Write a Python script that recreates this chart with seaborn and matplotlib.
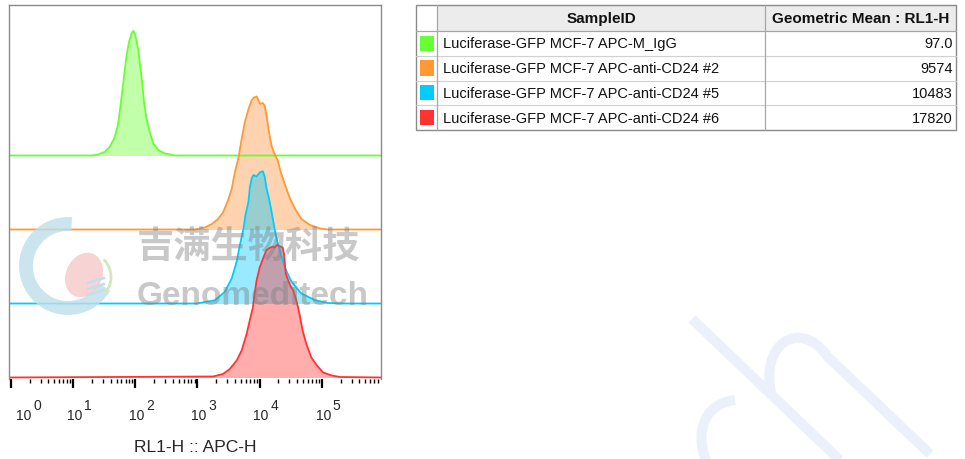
import numpy as np
import pandas as pd
import matplotlib
matplotlib.use("Agg")
import matplotlib.pyplot as plt
import seaborn as sns
from matplotlib.patches import Arc, Ellipse, PathPatch, Rectangle
from matplotlib.path import Path
from matplotlib.ticker import LogLocator, NullFormatter

# table content
sample_ids = ["Luciferase-GFP MCF-7 APC-M_IgG",
              "Luciferase-GFP MCF-7 APC-anti-CD24 #2",
              "Luciferase-GFP MCF-7 APC-anti-CD24 #5",
              "Luciferase-GFP MCF-7 APC-anti-CD24 #6"]
geo_means = ["97.0", "9574", "10483", "17820"]
line_colors = ["#66ff33", "#ff9933", "#00ccff", "#ff3333"]
fill_colors = ["#64ff28", "#ff9137", "#00c8ff", "#ff3232"]

# histograms: RL1-H as log10, height normalised to mode
green_log = [-0.03, 1.30, 1.40, 1.51, 1.59, 1.66, 1.72, 1.75, 1.79, 1.82, 1.86, 1.90, 1.94,
             1.97, 2.00, 2.05, 2.07, 2.11, 2.14, 2.18, 2.24, 2.29, 2.37, 2.48, 2.64, 5.95]
green_h = [0, 0, 1, 3.7, 8.7, 17, 30, 43.7, 63.7, 80, 100, 113.7, 122,
           124.7, 120, 105, 93.7, 73.7, 53.7, 37, 22, 12, 5.3, 2, 0, 0]

orange_log = [-0.03, 2.96, 3.12, 3.23, 3.33, 3.41, 3.49, 3.55, 3.60, 3.66, 3.71, 3.76, 3.82,
              3.87, 3.91, 3.95, 3.98, 4.01, 4.05, 4.08, 4.11, 4.15, 4.19, 4.23, 4.29, 4.34,
              4.41, 4.49, 4.57, 4.67, 4.81, 4.97, 5.10, 5.95]
orange_h = [0, 0, 2, 5.5, 10.5, 17, 29, 40.5, 57, 72, 90.5, 107, 120.5,
            129, 132, 133, 129, 125.5, 126.5, 124, 114, 97, 84, 77, 69, 57,
            44, 30.5, 20.5, 10.5, 4.5, 1, 0, 0]

cyan_log = [-0.03, 2.99, 3.28, 3.44, 3.55, 3.63, 3.68, 3.74, 3.77, 3.82, 3.84, 3.87, 3.90,
            3.95, 4.00, 4.05, 4.08, 4.11, 4.15, 4.19, 4.23, 4.27, 4.33, 4.41, 4.51, 4.67,
            4.89, 5.10, 5.34, 5.95]
cyan_h = [0, 0, 3.3, 11.7, 25, 42, 58, 75, 88, 102, 115, 125, 128.5,
          127, 131, 132.3, 127, 115, 105, 92, 78, 65, 52, 35, 22, 10,
          3.3, 0.5, 0, 0]

red_log = [-0.03, 3.25, 3.41, 3.52, 3.63, 3.71, 3.79, 3.84, 3.89, 3.91, 3.95, 4.00, 4.06,
           4.11, 4.16, 4.21, 4.24, 4.28, 4.33, 4.37, 4.39, 4.42, 4.46, 4.49, 4.54, 4.59,
           4.64, 4.69, 4.75, 4.83, 4.92, 5.02, 5.16, 5.29, 5.95]
red_h = [0, 1, 3.5, 8.5, 17, 27, 43.5, 57, 70, 80, 97, 110, 120,
         127.5, 129.5, 131, 130, 132.5, 131, 130, 123.5, 103.5, 97, 92, 87, 77,
         63.5, 47, 33.5, 20, 12, 5, 2, 0.5, 0]

decades = [0, 1, 2, 3, 4, 5]

curves = [(green_log, green_h), (orange_log, orange_h), (cyan_log, cyan_h), (red_log, red_h)]
step = 74  # vertical offset between stacked histograms

sns.set_theme(style="white")
plt.rcParams["font.family"] = ["Liberation Sans", "DejaVu Sans"]

W, H = 965, 460
fig = plt.figure(figsize=(W / 100, H / 100), dpi=100)
ax = fig.add_axes([9 / W, (H - 379.5) / H, 372 / W, 373.5 / H])
ax.set_xscale("log")

n = len(curves)
for i, (lg, hh) in enumerate(curves):
    off = step * (n - 1 - i)
    df = pd.DataFrame({"x": 10.0 ** np.array(lg), "y": off + np.array(hh, dtype=float)})
    ax.fill_between(df["x"], off, df["y"], color=fill_colors[i], alpha=0.4, lw=0)
    sns.lineplot(data=df, x="x", y="y", ax=ax, color=line_colors[i], lw=1.3,
                 estimator=None, sort=False)

ax.set_xlim(10 ** -0.03, 10 ** 5.95)
ax.set_ylim(-1, 372.5)
ax.set_yticks([])
ax.set_ylabel("")
ax.xaxis.set_major_locator(LogLocator(base=10, numticks=10))
ax.xaxis.set_minor_locator(LogLocator(base=10, subs=np.arange(2, 10), numticks=20))
ax.xaxis.set_major_formatter(NullFormatter())
ax.xaxis.set_minor_formatter(NullFormatter())
ax.tick_params(axis="x", which="major", bottom=True, direction="out", length=6.5, width=1.6,
               color="black")
ax.tick_params(axis="x", which="minor", bottom=True, direction="out", length=3, width=1,
               color="black")
for s in ["top", "left", "right"]:
    ax.spines[s].set_color("#8a8a8a")
    ax.spines[s].set_linewidth(1)
ax.spines["bottom"].set_visible(False)

# decade labels: "10" with a full-size raised exponent
for k in decades:
    shift = 21 if k == 0 else 9
    ax.annotate("10", xy=(10.0 ** k, 0), xycoords=("data", "axes fraction"),
                xytext=(shift * 0.72, -41 * 0.72), textcoords="offset points",
                ha="right", va="baseline", fontsize=10)
    ax.annotate(str(k), xy=(10.0 ** k, 0), xycoords=("data", "axes fraction"),
                xytext=((shift + 1.5) * 0.72, -31 * 0.72), textcoords="offset points",
                ha="left", va="baseline", fontsize=10)

ax.set_xlabel("RL1-H :: APC-H", fontsize=12.5)
ax.xaxis.set_label_coords(0.5, -(440 - 379.5) / 373.5)
ax.xaxis.label.set_va("top")

# overlay in pixel coordinates for the table and watermark
ov = fig.add_axes([0, 0, 1, 1])
ov.set_xlim(0, W)
ov.set_ylim(H, 0)
ov.axis("off")

# table
left, sw, mid, right = 416, 437, 765, 956
top, hb, bot = 6, 32, 131
rh = (bot - hb) / len(sample_ids)
ov.add_patch(Rectangle((sw, top), right - sw, hb - top, fc="#ececec", ec="none"))
for i, (name, gm) in enumerate(zip(sample_ids, geo_means)):
    y0 = hb + i * rh
    ov.add_patch(Rectangle((419.5, y0 + 4.5), 14, rh - 9.5, fc=line_colors[i], ec="none"))
    ov.text(443, y0 + rh / 2, name, ha="left", va="center", fontsize=10.5, color="#111111")
    ov.text(953, y0 + rh / 2, gm, ha="right", va="center", fontsize=10.5, color="#111111")
    if i > 0:
        ov.plot([left, right], [y0, y0], color="#d0d0d0", lw=0.8)
ov.plot([left, right], [hb, hb], color="#a6a6a6", lw=0.9)
for xv in [sw, mid]:
    ov.plot([xv, xv], [top, bot], color="#a6a6a6", lw=0.9)
ov.add_patch(Rectangle((left, top), right - left, bot - top, fc="none", ec="#8a8a8a", lw=1))
ov.text((sw + mid) / 2, (top + hb) / 2, "SampleID", ha="center", va="center",
        fontsize=11, fontweight="bold", color="#111111")
ov.text((mid + right) / 2, (top + hb) / 2, "Geometric Mean : RL1-H", ha="center",
        va="center", fontsize=11, fontweight="bold", color="#111111")

# watermark logo
ov.add_patch(Arc((68, 267), 84, 84, theta1=30, theta2=275, color="#bfdfeb", lw=10, alpha=0.8))
ov.add_patch(Ellipse((84, 276), 36, 46, angle=25, fc="#f6c8c8", ec="none", alpha=0.8))
ov.add_patch(Arc((86, 278), 50, 50, theta1=-45, theta2=40, color="#cfe9bd", lw=2))
for dy in [0, 6, 12]:
    ov.plot([88, 104], [284 + dy, 279 + dy], color="#c4dfea", lw=2)
ov.text(137, 248, "吉满生物科技", family=["Noto Sans CJK SC", "DejaVu Sans"],
        fontsize=26.8, fontweight="bold", color="#808080", alpha=0.43, ha="left", va="center")
ov.text(137, 305, "Genomeditech", fontsize=24, fontweight="bold", color="#808080",
        alpha=0.43, ha="left", va="baseline")

# watermark strokes, lower right
wm = "#ebf0fa"
ov.plot([692, 845], [320, 466], color=wm, lw=7.2, solid_capstyle="butt")
p2 = Path([(772, 398), (758, 345), (800, 318), (828, 358), (930, 455)],
          [Path.MOVETO, Path.CURVE4, Path.CURVE4, Path.CURVE4, Path.LINETO])
ov.add_patch(PathPatch(p2, fc="none", ec=wm, lw=7.2))
p3 = Path([(735, 401), (700, 405), (695, 440), (708, 466)],
          [Path.MOVETO, Path.CURVE4, Path.CURVE4, Path.CURVE4])
ov.add_patch(PathPatch(p3, fc="none", ec=wm, lw=7.2))

fig.savefig("out.png", dpi=100)
